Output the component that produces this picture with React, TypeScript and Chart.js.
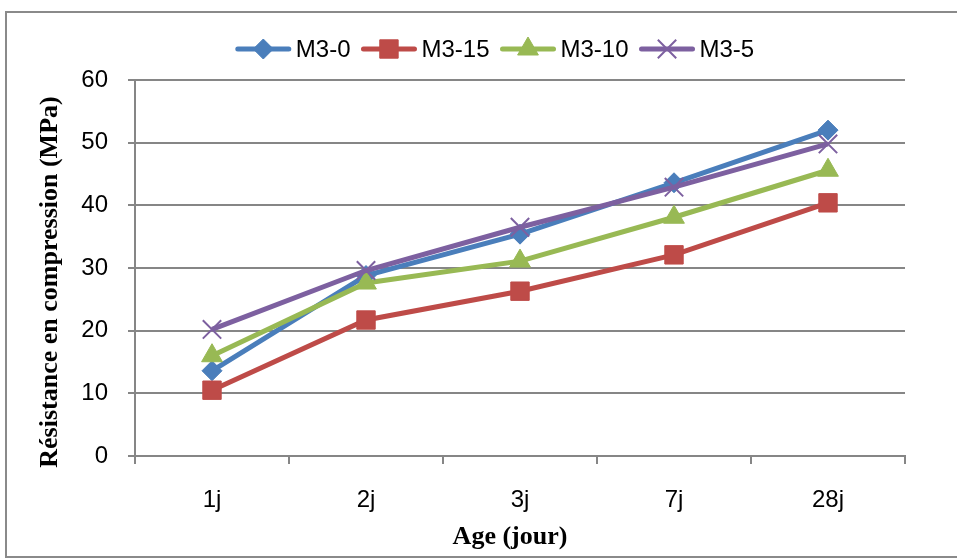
import React, { useEffect, useRef } from 'react';
import { Chart, registerables } from 'chart.js';
import { drawPoint } from 'chart.js/helpers';

Chart.register(...registerables);

const CATEGORIES = ['1j', '2j', '3j', '7j', '28j'];
const SERIES_NAMES = ['M3-0', 'M3-15', 'M3-10', 'M3-5'];
const M3_0 = [13.6, 28.8, 35.4, 43.6, 52.0];
const M3_15 = [10.5, 21.7, 26.3, 32.1, 40.4];
const M3_10 = [16.0, 27.6, 31.1, 38.1, 45.6];
const M3_5 = [20.2, 29.6, 36.5, 42.9, 49.8];
const Y_MIN = 0;
const Y_MAX = 60;
const Y_STEP = 10;
const X_TITLE = 'Age (jour)';
const Y_TITLE = 'Résistance en compression (MPa)';

const COLORS = ['#4A7EBB', '#BE4B48', '#98B954', '#7D60A0'];
const SANS = '"Liberation Sans", Arial, sans-serif';
const SERIF = '"Liberation Serif", "Times New Roman", serif';

const decorPlugin = {
  id: 'decor',
  beforeDraw(chart: any) {
    const ctx = chart.ctx;
    ctx.save();
    ctx.fillStyle = '#ffffff';
    ctx.fillRect(0, 0, chart.width, chart.height);
    ctx.strokeStyle = '#8a8a8a';
    ctx.lineWidth = 2;
    ctx.strokeRect(6, 12, 960, 545);
    ctx.restore();
  },
  afterDraw(chart: any) {
    const ctx = chart.ctx;
    ctx.save();
    // legend
    ctx.font = '24px ' + SANS;
    ctx.textBaseline = 'middle';
    ctx.textAlign = 'left';
    const ds = chart.data.datasets;
    const lineLen = 55;
    const gapText = 5;
    const gapItem = 11;
    const widths = ds.map((d: any) => ctx.measureText(d.label).width);
    const total = widths.reduce((a: number, w: number) => a + lineLen + gapText + w, 0) + gapItem * (ds.length - 1);
    let x = 495 - total / 2;
    const y = 49;
    ds.forEach((d: any, i: number) => {
      ctx.strokeStyle = d.borderColor;
      ctx.lineWidth = 5;
      ctx.lineCap = 'round';
      ctx.beginPath();
      ctx.moveTo(x + 2, y);
      ctx.lineTo(x + lineLen - 2, y);
      ctx.stroke();
      ctx.lineCap = 'butt';
      ctx.fillStyle = d.pointBackgroundColor;
      ctx.strokeStyle = d.pointBorderColor;
      ctx.lineWidth = d.pointBorderWidth;
      drawPoint(ctx, { pointStyle: d.pointStyle, radius: d.pointRadius, borderWidth: d.pointBorderWidth, rotation: 0 } as any, x + lineLen / 2, y);
      ctx.fillStyle = '#000000';
      ctx.fillText(d.label, x + lineLen + gapText, y + 1);
      x += lineLen + gapText + widths[i] + gapItem;
    });
    // axis titles
    ctx.font = 'bold 26px ' + SERIF;
    ctx.fillStyle = '#000000';
    ctx.textAlign = 'center';
    ctx.textBaseline = 'middle';
    ctx.fillText(X_TITLE, 510, 537);
    ctx.translate(50, 282);
    ctx.rotate(-Math.PI / 2);
    ctx.fillText(Y_TITLE, 0, 0);
    ctx.restore();
  },
};

export default function App() {
  const ref = useRef<HTMLCanvasElement | null>(null);
  useEffect(() => {
    document.body.style.margin = '0';
    if (!ref.current) return;
    const series = [M3_0, M3_15, M3_10, M3_5];
    const styles = ['rectRot', 'rect', 'triangle', 'crossRot'];
    const radii = [10, 13, 12, 13];
    const bw = [1, 1, 1, 2];
    const chart = new Chart(ref.current, {
      type: 'line',
      data: {
        labels: CATEGORIES,
        datasets: series.map((vals, i) => ({
          label: SERIES_NAMES[i],
          data: vals,
          borderColor: COLORS[i],
          backgroundColor: COLORS[i],
          borderWidth: 5,
          pointStyle: styles[i],
          pointRadius: radii[i],
          pointHoverRadius: radii[i],
          pointBackgroundColor: COLORS[i],
          pointBorderColor: COLORS[i],
          pointBorderWidth: bw[i],
          tension: 0,
          fill: false,
          order: series.length - 1 - i,
        })) as any,
      },
      options: {
        responsive: false,
        animation: false,
        layout: { padding: { top: 80, right: 52, bottom: 0, left: 0 } },
        plugins: {
          legend: { display: false },
          tooltip: { enabled: false },
          title: { display: false },
        },
        scales: {
          x: {
            type: 'category',
            offset: true,
            grid: {
              offset: true,
              drawOnChartArea: false,
              drawTicks: true,
              tickLength: 8,
              color: '#868686',
              lineWidth: 2,
            },
            border: { display: true, color: '#868686', width: 2 },
            ticks: { color: '#000', font: { family: SANS, size: 24 }, padding: 22, maxRotation: 0 },
            afterFit: (s: any) => { s.height = 104; },
          },
          y: {
            min: Y_MIN,
            max: Y_MAX,
            grid: {
              color: '#868686',
              lineWidth: 2,
              drawTicks: true,
              tickLength: 7,
            },
            border: { display: true, color: '#868686', width: 2 },
            ticks: { stepSize: Y_STEP, color: '#000', font: { family: SANS, size: 24 }, padding: 20 },
            afterFit: (s: any) => { s.width = 135; },
          },
        },
      },
      plugins: [decorPlugin],
    } as any);
    return () => chart.destroy();
  }, []);
  return (
    <div style={{ width: 957, height: 560 }}>
      <canvas ref={ref} width={957} height={560} style={{ display: 'block' }} />
    </div>
  );
}
